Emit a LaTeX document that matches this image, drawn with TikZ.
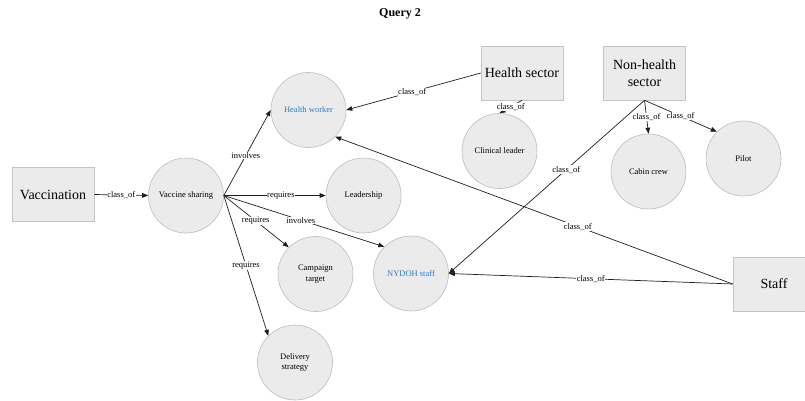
\documentclass[tikz,border=0pt]{standalone}
\usepackage{fontspec}
\setmainfont{Liberation Serif}
\newfontfamily\timesface{Liberation Serif}
\usetikzlibrary{arrows.meta}
\definecolor{shapefill}{HTML}{EBEBEB}
\definecolor{circleline}{HTML}{B4BDC9}
\definecolor{boxline}{HTML}{C4C4C4}
\definecolor{linkblue}{HTML}{2E7CC4}
\definecolor{edgeline}{HTML}{1E1E1E}
\tikzset{
  concept/.style={circle, draw=circleline, fill=shapefill, line width=0.6pt,
    minimum size=75pt, inner sep=1pt, align=center,
    font=\timesface\fontsize{8.5}{10.5}\selectfont},
  category/.style={rectangle, draw=boxline, fill=shapefill, line width=0.6pt,
    minimum width=82pt, minimum height=54pt, inner sep=2pt, align=center,
    font=\timesface\fontsize{14}{16.5}\selectfont},
  link/.style={draw=edgeline, line width=0.7pt,
    -{Triangle[length=6pt,width=4.6pt]}},
  rel/.style={fill=white, inner sep=0.6pt, text=black,
    font=\timesface\fontsize{8.5}{9}\selectfont},
}
\begin{document}
\begin{tikzpicture}[x=1pt, y=-1pt]
\useasboundingbox (0,0) rectangle (805,400);
\clip (0,0) rectangle (805,400);

% title
\node[font=\timesface\bfseries\fontsize{12}{14}\selectfont] (title) at (400,14) {Query 2};

% categories
\node[category] (vac) at (53,194.5) {Vaccination};
\node[category] (hs) at (522,73) {Health sector};
\node[category] (nhs) at (644.5,73) {Non-health\\sector};
\node[category] (staff) at (774,284) {Staff};

% concepts
\node[concept] (vs) at (186,195.5) {Vaccine sharing};
\node[concept, text=linkblue] (hw) at (308.5,110) {Health worker};
\node[concept] (lead) at (363.5,195.5) {Leadership};
\node[concept] (ct) at (315.5,274) {Campaign\\target};
\node[concept, text=linkblue] (nyd) at (411,273.5) {NYDOH staff};
\node[concept] (ds) at (295,362.5) {Delivery\\strategy};
\node[concept] (cl) at (499.5,151) {Clinical leader};
\node[concept] (cc) at (648.5,171.5) {Cabin crew};
\node[concept] (pilot) at (743.5,158.5) {Pilot};

% relations from vaccination
\draw[link] (vac.east) -- node[rel] {class\_of} (vs.west);
\draw[link] (vs.east) -- node[rel, pos=0.47] {involves} (hw.west);
\draw[link] (vs.east) -- node[rel, pos=0.56] {requires} (lead.west);
\draw[link] (vs.east) -- node[rel, pos=0.49] {requires} (ct.135);
\draw[link] (vs.east) -- node[rel, pos=0.48] {involves} (nyd.135);
\draw[link] (vs.east) -- node[rel, pos=0.5] {requires} (ds.135);

% sector relations
\draw[link] (hs.west) -- node[rel, pos=0.51] {class\_of} (hw.east);
\draw[link] (hs.south) -- node[rel] {class\_of} (cl.north);
\draw[link] (nhs.south) -- node[rel] {class\_of} (cc.north);
\draw[link] (nhs.south) -- node[rel] {class\_of} (pilot.135);
\draw[link] (nhs.south) -- node[rel, pos=0.4] {class\_of} (nyd.east);

% staff relations
\draw[link] (staff.west) -- node[rel, pos=0.39] {class\_of} (hw.-45);
\draw[link] (staff.west) -- node[rel, pos=0.5] {class\_of} (nyd.east);
\end{tikzpicture}
\end{document}
